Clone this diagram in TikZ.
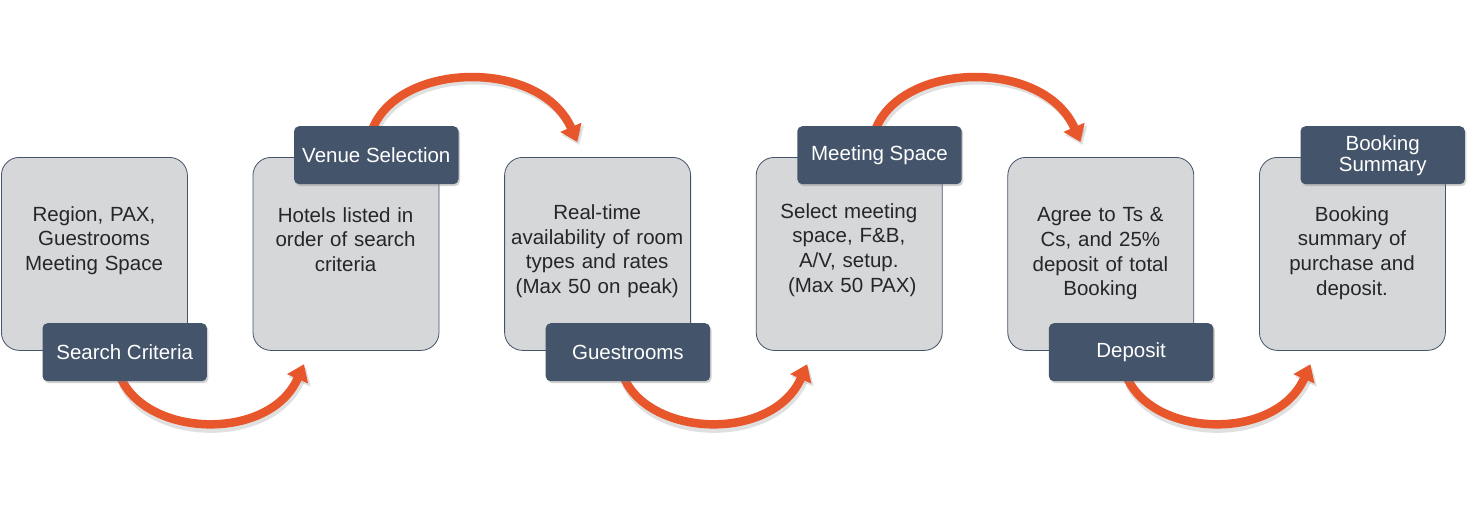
\documentclass[tikz,border=0pt]{standalone}
\usepackage{fontspec}
\setmainfont{Liberation Sans}
\usetikzlibrary{arrows.meta,shadows,calc}
\definecolor{boxgray}{HTML}{D6D7D9}
\definecolor{slate}{HTML}{44546A}
\definecolor{flow}{HTML}{E8572C}
\definecolor{ink}{HTML}{262626}
\tikzset{
  stepbox/.style={draw=slate, line width=0.8pt, fill=boxgray, rounded corners=18pt,
    minimum width=186pt, minimum height=193pt, inner sep=0pt, anchor=north west},
  boxtext/.style={text=ink, align=center, text width=186pt, inner sep=0pt, anchor=base,
    font=\fontsize{20.5}{24.8}\selectfont},
  steplabel/.style={fill=slate, rounded corners=5pt, minimum width=164.4pt, minimum height=58pt,
    inner sep=0pt, anchor=north west, text=white, align=center,
    font=\fontsize{20.5}{21}\selectfont,
    drop shadow={opacity=0.35, shadow xshift=1.5pt, shadow yshift=-2pt}},
  flowarrow/.style={draw=flow, line width=8.5pt, -{Triangle[length=16pt, width=22pt]}},
  flowshadow/.style={draw=black, opacity=0.12, line width=9pt, -{Triangle[length=16pt, width=23pt]}},
}
\begin{document}
\begin{tikzpicture}[x=1pt, y=-1pt]
\useasboundingbox (0,0) rectangle (1475,507);
\fill[white] (0,0) rectangle (1475,507);
% boxes
\node[stepbox] (b1) at (1,157) {};
\node[stepbox] (b2) at (252.6,157) {};
\node[stepbox] (b3) at (504.2,157) {};
\node[stepbox] (b4) at (755.8,157) {};
\node[stepbox] (b5) at (1007.4,157) {};
\node[stepbox] (b6) at (1259,157) {};
% box texts
\node[boxtext] (t1) at (94,221) {Region, PAX,\\Guestrooms\\Meeting Space};
\node[boxtext] (t2) at (345.6,222) {Hotels listed in\\order of search\\criteria};
\node[boxtext] (t3) at (597.2,219.3) {Real-time\\availability of room\\types and rates\\(Max 50 on peak)};
\node[boxtext] (t4) at (848.8,218) {Select meeting\\space, F\&B,\\A/V, setup.\\\ (Max 50 PAX)};
\node[boxtext] (t5) at (1100.4,221.5) {Agree to Ts \&\\Cs, and 25\%\\deposit of total\\Booking};
\node[boxtext] (t6) at (1352,221) {Booking\\summary of\\purchase and\\deposit.};
% label anchors
\coordinate (p1) at (42.3,323);
\coordinate (p2) at (293.9,126);
\coordinate (p3) at (545.5,323);
\coordinate (p4) at (797.1,126);
\coordinate (p5) at (1048.7,323);
\coordinate (p6) at (1300.3,126);
% arrows (shadow + arrow), behind labels
\foreach \a/\b in {1/2,3/4,5/6}{
  \draw[flowshadow] ($(p\a)+(81,61)$) .. controls +(28,59) and +(-34,77) .. ($(b\b.south west)+(53.4,16.4)$);
  \draw[flowarrow] ($(p\a)+(79,56)$) .. controls +(28,59) and +(-34,77) .. ($(b\b.south west)+(51.4,13.4)$);
}
\foreach \a/\b in {2/3,4/5}{
  \draw[flowshadow] ($(p\a)+(81,5)$) .. controls +(28,-67) and +(-36,-83) .. ($(b\b.north west)+(75,-12)$);
  \draw[flowarrow] ($(p\a)+(79,2)$) .. controls +(28,-67) and +(-36,-83) .. ($(b\b.north west)+(73,-15)$);
}
% labels
\node[steplabel] (l1) at (p1) {Search Criteria};
\node[steplabel] (l2) at (p2) {Venue Selection};
\node[steplabel] (l3) at (p3) {Guestrooms};
\node[steplabel] (l4) at (p4) {Meeting Space};
\node[steplabel] (l5) at (p5) {Deposit};
\node[steplabel] (l6) at (p6) {Booking\\Summary};
\end{tikzpicture}
\end{document}
